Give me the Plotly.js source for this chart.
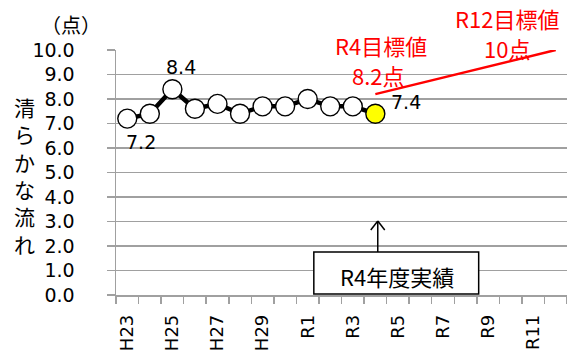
<!DOCTYPE html>
<html><head><meta charset="utf-8">
<script src="https://cdn.plot.ly/plotly-3.0.1.min.js"></script>
<style>html,body{margin:0;padding:0;background:#fff}#chart{width:567px;height:353px}</style>
</head><body><div id="chart"></div>
<script>
const categories = ['H23','H24','H25','H26','H27','H28','H29','H30','R1','R2','R3','R4','R5','R6','R7','R8','R9','R10','R11','R12'];
const tickLabels = ['H23','','H25','','H27','','H29','','R1','','R3','','R5','','R7','','R9','','R11',''];
const actualYears = ['H23','H24','H25','H26','H27','H28','H29','H30','R1','R2','R3','R4'];
const actualValues = [7.2, 7.4, 8.4, 7.6, 7.8, 7.4, 7.7, 7.7, 8.0, 7.7, 7.7, 7.4];
const targetYears = ['R4','R12'];
const targetValues = [8.2, 10.0];

const FONT = '"DejaVu Sans", "Noto Sans CJK JP", sans-serif';
const JFONT = '"Noto Sans CJK JP", "DejaVu Sans", sans-serif';
const xIdx = c => categories.indexOf(c);

const markerColors = actualValues.map((v,i)=> i===actualValues.length-1 ? '#ffff00' : '#ffffff');

const traces = [
  {x: targetYears.map(xIdx), y: targetValues, mode:'lines', line:{color:'#ff0000', width:2.5}, hoverinfo:'skip'},
  {x: actualYears.map(xIdx), y: actualValues, mode:'lines+markers',
   line:{color:'#000000', width:4.5},
   marker:{size:19, color:markerColors, line:{color:'#000000', width:1.4}}}
];

const C = {xanchor:'center', yanchor:'middle', showarrow:false};
const annotations = [
  Object.assign({x:xIdx('H23'), y:actualValues[0], xref:'x', yref:'y', text:actualValues[0].toFixed(1), xshift:14, yshift:-23, font:{family:FONT,size:19,color:'#000'}}, C),
  Object.assign({x:xIdx('H25'), y:actualValues[2], xref:'x', yref:'y', text:actualValues[2].toFixed(1), xshift:9, yshift:22, font:{family:FONT,size:19,color:'#000'}}, C),
  Object.assign({x:xIdx('R4'), y:actualValues[11], xref:'x', yref:'y', text:actualValues[11].toFixed(1), xshift:31, yshift:12, font:{family:FONT,size:19,color:'#000'}}, C),
  Object.assign({x:0.587, y:1.02, xref:'paper', yref:'paper', text:'R4目標値', font:{family:JFONT,size:22,color:'#ff0000'}}, C),
  Object.assign({x:0.583, y:0.898, xref:'paper', yref:'paper', text:'8.2点', font:{family:JFONT,size:22,color:'#ff0000'}}, C),
  Object.assign({x:0.867, y:1.131, xref:'paper', yref:'paper', text:'R12目標値', font:{family:JFONT,size:22,color:'#ff0000'}}, C),
  Object.assign({x:0.867, y:1.008, xref:'paper', yref:'paper', text:'10点', font:{family:JFONT,size:22,color:'#ff0000'}}, C),
  Object.assign({x:0.6235, y:0.078, xref:'paper', yref:'paper', text:'R4年度実績', font:{family:JFONT,size:22,color:'#000'}}, C),
  Object.assign({x:-0.0997, y:1.105, xref:'paper', yref:'paper', text:'（点）', font:{family:JFONT,size:20,color:'#000'}}, C),
  Object.assign({x:-0.2038, y:0.488, xref:'paper', yref:'paper', text:'清<br>ら<br>か<br>な<br>流<br>れ', font:{family:JFONT,size:21,color:'#000'}}, C)
];

const px = v => (v-116)/451.4;
const py = v => (295-v)/245;
const shapes = [
  {type:'rect', xref:'paper', yref:'paper', x0:px(314), x1:px(479), y0:py(294), y1:py(252), line:{color:'#000', width:1.5}, fillcolor:'#ffffff'},
  {type:'line', xref:'paper', yref:'paper', x0:px(378), x1:px(378), y0:py(252), y1:py(221), line:{color:'#000', width:1.5}},
  {type:'line', xref:'paper', yref:'paper', x0:px(371), x1:px(378), y0:py(230), y1:py(221), line:{color:'#000', width:1.5}},
  {type:'line', xref:'paper', yref:'paper', x0:px(385), x1:px(378), y0:py(230), y1:py(221), line:{color:'#000', width:1.5}}
];

const layout = {
  width:567, height:353,
  margin:{l:116, r:0, t:50, b:58},
  paper_bgcolor:'#fff', plot_bgcolor:'#fff',
  showlegend:false,
  xaxis:{
    range:[-0.5, categories.length-0.5],
    tickmode:'array', tickvals:categories.map((c,i)=>i), ticktext:tickLabels,
    tickangle:-90, ticks:'', ticklabelstandoff:11,
    showgrid:false, zeroline:false,
    showline:true, linecolor:'#a0a0a0', linewidth:1.5,
    minor:{tick0:0.5, dtick:1, ticks:'outside', ticklen:7, tickcolor:'#a0a0a0', tickwidth:1.5, showgrid:false},
    tickfont:{family:FONT, size:18, color:'#000'}, fixedrange:true
  },
  yaxis:{
    range:[0,10], dtick:1, tickformat:'.1f',
    ticks:'outside', ticklen:8, tickcolor:'#a0a0a0', tickwidth:1.5,
    ticklabelstandoff:28,
    showgrid:true, gridcolor:'#a0a0a0', gridwidth:1.5,
    zeroline:false, showline:true, linecolor:'#a0a0a0', linewidth:1.5,
    tickfont:{family:FONT, size:19, color:'#000'}, fixedrange:true
  },
  annotations, shapes
};

Plotly.newPlot('chart', traces, layout, {displayModeBar:false, staticPlot:true});
</script></body></html>
